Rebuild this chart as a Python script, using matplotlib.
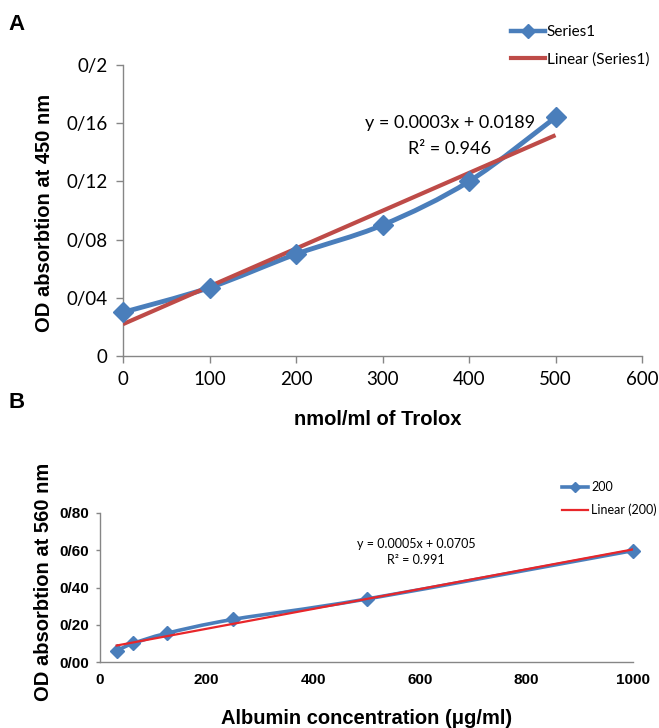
import numpy as np
import matplotlib
matplotlib.use("Agg")
import matplotlib.pyplot as plt
from matplotlib.path import Path
from matplotlib.patches import PathPatch
from matplotlib.lines import Line2D

# ---- data ----
a_x = [0, 100, 200, 300, 400, 500]
a_y = [0.030, 0.047, 0.070, 0.090, 0.120, 0.164]
a_xticks = [0, 100, 200, 300, 400, 500, 600]
a_yticks = [0, 0.04, 0.08, 0.12, 0.16, 0.2]
a_yticklabels = ["0", "0/04", "0/08", "0/12", "0/16", "0/2"]
a_eq = "y = 0.0003x + 0.0189"
a_r2 = "R² = 0.946"

b_x = [31.25, 62.5, 125, 250, 500, 1000]
b_y = [0.061, 0.100, 0.154, 0.229, 0.338, 0.598]
b_xticks = [0, 200, 400, 600, 800, 1000]
b_yticks = [0, 0.2, 0.4, 0.6, 0.8]
b_yticklabels = ["0/00", "0/20", "0/40", "0/60", "0/80"]
b_eq = "y = 0.0005x + 0.0705"
b_r2 = "R² = 0.991"

BLUE = "#4A7EBB"
RED_A = "#BE4B48"
RED_B = "#E8262A"
GRAY = "#868686"

W, H = 659, 728
fig = plt.figure(figsize=(W / 100, H / 100), dpi=100)


def smooth_path(ax, xs, ys, color, lw):
    xs = np.asarray(xs, float)
    ys = np.asarray(ys, float)
    pts = ax.transData.transform(np.column_stack([xs, ys]))
    n = len(pts)
    verts = [pts[0]]
    codes = [Path.MOVETO]
    t = 1.0 / 6.0
    for i in range(n - 1):
        p0 = pts[i - 1] if i > 0 else pts[i]
        p1 = pts[i]
        p2 = pts[i + 1]
        p3 = pts[i + 2] if i + 2 < n else pts[i + 1]
        c1 = p1 + (p2 - p0) * t
        c2 = p2 - (p3 - p1) * t
        verts += [c1, c2, p2]
        codes += [Path.CURVE4] * 3
    path = Path(verts, codes)
    patch = PathPatch(path, transform=None, facecolor="none", edgecolor=color,
                      lw=lw, capstyle="round", joinstyle="round", zorder=3)
    ax.add_artist(patch)


def style_axes(ax):
    for s in ["top", "right"]:
        ax.spines[s].set_visible(False)
    for s in ["left", "bottom"]:
        ax.spines[s].set_color(GRAY)
        ax.spines[s].set_linewidth(1.0)
    ax.tick_params(color=GRAY, direction="out", width=1.0)


# ---------------- Panel A ----------------
axA = fig.add_axes([123 / W, 1 - 356 / H, (642 - 123) / W, (356 - 65) / H])
style_axes(axA)
axA.set_xlim(0, 600)
axA.set_ylim(0, 0.2)
axA.set_xticks(a_xticks)
axA.set_yticks(a_yticks)
axA.set_yticklabels(a_yticklabels)
axA.tick_params(length=5, labelsize=13.5, pad=6)
for lab in axA.get_xticklabels() + axA.get_yticklabels():
    lab.set_fontfamily("Lato")

kA = np.polyfit(a_x, a_y, 1)
fitA_x = np.array([a_x[0], a_x[-1]])
axA.plot(fitA_x, np.polyval(kA, fitA_x), color=RED_A, lw=3.0, zorder=4,
         solid_capstyle="butt")
fig.canvas.draw()
smooth_path(axA, a_x, a_y, BLUE, 3.5)
axA.plot(a_x, a_y, linestyle="none", marker="D", markersize=10, color=BLUE,
         zorder=5, clip_on=False)

axA.text(378, 0.1600, a_eq, ha="center", va="center", fontsize=13,
         fontfamily="Lato")
axA.text(378, 0.1425, a_r2, ha="center", va="center", fontsize=13,
         fontfamily="Lato")

handlesA = [Line2D([], [], color=BLUE, lw=3.2, marker="D", markersize=7),
            Line2D([], [], color=RED_A, lw=3.0)]
fig.legend(handlesA, ["Series1", "Linear (Series1)"], loc="upper left",
           bbox_to_anchor=(511 / W, 1 - 25 / H), frameon=False,
           prop={"family": "Lato", "size": 11}, handlelength=2.2,
           handletextpad=0.15, labelspacing=0.85, borderpad=0, borderaxespad=0)

fig.text(45 / W, 1 - 213 / H, "OD absorbtion at 450 nm", rotation=90,
         ha="center", va="center", fontsize=14.5, fontweight="bold",
         fontfamily="Liberation Sans")
fig.text(378 / W, 1 - 420 / H, "nmol/ml of Trolox", ha="center", va="center",
         fontsize=14.5, fontweight="bold", fontfamily="Liberation Sans")
fig.text(8 / W, 1 - 25 / H, "A", ha="left", va="center", fontsize=16,
         fontweight="bold", fontfamily="Liberation Sans")
fig.text(8 / W, 1 - 403 / H, "B", ha="left", va="center", fontsize=16,
         fontweight="bold", fontfamily="Liberation Sans")

# ---------------- Panel B ----------------
axB = fig.add_axes([100 / W, 1 - 662 / H, (633 - 100) / W, (662 - 513) / H])
style_axes(axB)
axB.set_xlim(0, 1000)
axB.set_ylim(0, 0.8)
axB.set_xticks(b_xticks)
axB.set_yticks(b_yticks)
axB.set_yticklabels(b_yticklabels)
axB.tick_params(axis="y", length=3, labelsize=11, pad=5)
axB.tick_params(axis="x", length=0, labelsize=11, pad=8)
for lab in axB.get_xticklabels() + axB.get_yticklabels():
    lab.set_fontfamily("Liberation Sans")
    lab.set_fontweight("bold")

kB = np.polyfit(b_x, b_y, 1)
fitB_x = np.array([b_x[0], b_x[-1]])
fig.canvas.draw()
smooth_path(axB, b_x, b_y, BLUE, 2.6)
axB.plot(b_x, b_y, linestyle="none", marker="D", markersize=7, color=BLUE,
         zorder=3, clip_on=False)
axB.plot(fitB_x, np.polyval(kB, fitB_x), color=RED_B, lw=1.6, zorder=4)

axB.text(593, 0.634, b_eq, ha="center", va="center", fontsize=9,
         fontfamily="Lato")
axB.text(593, 0.548, b_r2, ha="center", va="center", fontsize=9,
         fontfamily="Lato")

handlesB = [Line2D([], [], color=BLUE, lw=2.6, marker="D", markersize=5),
            Line2D([], [], color=RED_B, lw=1.6)]
fig.legend(handlesB, ["200", "Linear (200)"], loc="upper left",
           bbox_to_anchor=(562 / W, 1 - 481 / H), frameon=False,
           prop={"family": "Lato", "size": 9}, handlelength=2.1,
           handletextpad=0.25, labelspacing=0.85, borderpad=0, borderaxespad=0)

fig.text(44 / W, 1 - 582 / H, "OD absorbtion at 560 nm", rotation=90,
         ha="center", va="center", fontsize=14.5, fontweight="bold",
         fontfamily="Liberation Sans")
fig.text(367 / W, 1 - 718 / H, "Albumin concentration (μg/ml)", ha="center",
         va="center", fontsize=14.5, fontweight="bold",
         fontfamily="Liberation Sans")

fig.savefig("out.png", dpi=100)
